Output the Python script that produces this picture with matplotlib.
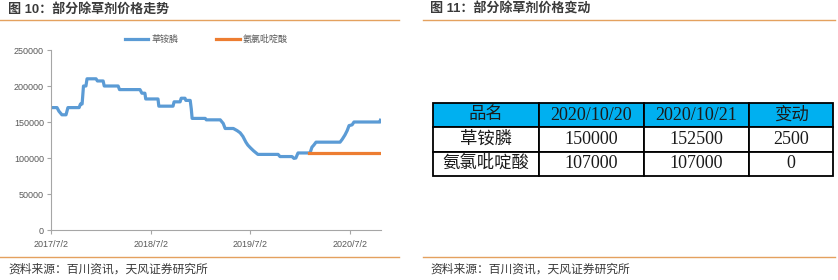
import pandas as pd
import matplotlib
matplotlib.use('Agg')
import matplotlib.pyplot as plt
from matplotlib.lines import Line2D

plt.rcParams['font.family'] = ['Liberation Sans', 'Noto Sans CJK SC', 'DejaVu Sans']

# 草铵膦 price
gl_dates = ['2017-07-02', '2017-07-24', '2017-07-31', '2017-08-11', '2017-08-26', '2017-09-02',
            '2017-10-13', '2017-10-18', '2017-10-24', '2017-10-29', '2017-11-07', '2017-11-11',
            '2017-12-14', '2017-12-19', '2018-01-09', '2018-01-13', '2018-03-05', '2018-03-10',
            '2018-05-24', '2018-05-31', '2018-06-11', '2018-06-14', '2018-07-29', '2018-08-01',
            '2018-09-22', '2018-09-26', '2018-10-18', '2018-10-22', '2018-11-05', '2018-11-08',
            '2018-11-24', '2018-11-28', '2018-12-01', '2019-01-18', '2019-01-22', '2019-03-14',
            '2019-03-25', '2019-04-01', '2019-05-01', '2019-05-15', '2019-05-26', '2019-06-05',
            '2019-06-16', '2019-06-23', '2019-07-03', '2019-07-14', '2019-07-30', '2019-10-12',
            '2019-10-19', '2019-12-02', '2019-12-09', '2019-12-16', '2019-12-24', '2020-02-06',
            '2020-02-13', '2020-02-20', '2020-02-28', '2020-05-26', '2020-06-03', '2020-06-13',
            '2020-06-21', '2020-06-28', '2020-07-09', '2020-07-16', '2020-10-20', '2020-10-21']
gl_price = [170000, 170000, 165000, 160000, 160000, 170000,
            170000, 175000, 175000, 200000, 200000, 210000,
            210000, 207000, 207000, 200000, 200000, 195000,
            195000, 190000, 190000, 182000, 182000, 172000,
            172000, 178000, 178000, 183000, 183000, 180000,
            180000, 168000, 155000, 155000, 153000, 153000,
            148000, 141000, 141000, 138000, 135000, 130000,
            122000, 118000, 114000, 110000, 105000, 105000,
            102000, 102000, 99500, 100000, 107000, 107000,
            115000, 118000, 122000, 122000, 126000, 132000,
            138000, 145000, 146000, 150000, 150000, 152500]

# 氨氯吡啶酸 price
pa_dates = ['2020-02-02', '2020-10-21']
pa_price = [107000, 107000]

x_ticks = ['2017-07-02', '2018-07-02', '2019-07-02', '2020-07-02']
x_labels = ['2017/7/2', '2018/7/2', '2019/7/2', '2020/7/2']
y_ticks = [0, 50000, 100000, 150000, 200000, 250000]

# table on the right
tbl_cols = ['品名', '2020/10/20', '2020/10/21', '变动']
tbl_names = ['草铵膦', '氨氯吡啶酸']
tbl_d1 = [150000, 107000]
tbl_d2 = [152500, 107000]
tbl_chg = [2500, 0]

W, H = 838, 280
fig = plt.figure(figsize=(W / 100, H / 100), dpi=100)

def fx(px):
    return px / W

def fy(py):
    return 1 - py / H

title_c = '#3a3a3a'
sep_c = '#E4A15F'

# headers, separators and source notes
fig.text(fx(8), fy(9), '图 10：部分除草剂价格走势', fontsize=9.4, fontweight='bold',
         color=title_c, va='center', ha='left')
fig.text(fx(430), fy(9), '图 11：部分除草剂价格变动', fontsize=9.4, fontweight='bold',
         color=title_c, va='center', ha='left')
for x0, x1 in [(0, 399), (423, 835)]:
    fig.add_artist(Line2D([fx(x0), fx(x1)], [fy(20), fy(20)], color=sep_c, lw=1.0))
    fig.add_artist(Line2D([fx(x0), fx(x1)], [fy(257), fy(257)], color=sep_c, lw=1.0))
fig.text(fx(8), fy(270), '资料来源：百川资讯，天风证券研究所', fontsize=8.5,
         color=title_c, va='center', ha='left')
fig.text(fx(430), fy(270), '资料来源：百川资讯，天风证券研究所', fontsize=8.5,
         color=title_c, va='center', ha='left')

# line chart
ax = fig.add_axes([fx(51), fy(230), fx(330), 180 / H])
ax.plot(pd.to_datetime(gl_dates), gl_price, color='#5B9BD5', lw=2.3, label='草铵膦')
ax.plot(pd.to_datetime(pa_dates), pa_price, color='#ED7D31', lw=2.3, label='氨氯吡啶酸')
ax.set_xlim(pd.Timestamp('2017-07-02'), pd.Timestamp('2020-10-23'))
ax.set_ylim(0, 250000)
ax.set_yticks(y_ticks)
ax.set_yticklabels([str(v) for v in y_ticks])
ax.set_xticks(pd.to_datetime(x_ticks))
ax.set_xticklabels(x_labels)
for s in ['top', 'right']:
    ax.spines[s].set_visible(False)
for s in ['left', 'bottom']:
    ax.spines[s].set_color('#a6a6a6')
    ax.spines[s].set_linewidth(0.8)
ax.tick_params(axis='both', colors='#a6a6a6', labelcolor='#595959', labelsize=6.5,
               length=3, width=0.8, direction='out')
ax.tick_params(axis='x', pad=4)
ax.tick_params(axis='y', pad=2)
ax.legend(loc='lower center', bbox_to_anchor=(0.47, 0.99), ncol=2, frameon=False,
          fontsize=6.5, handlelength=2.6, handletextpad=0.3, columnspacing=4.2,
          labelcolor='#595959')

# table
ax_t = fig.add_axes([fx(433), fy(176), fx(400), 73 / H])
ax_t.axis('off')
rows = [[n, str(a), str(b), str(c)] for n, a, b, c in zip(tbl_names, tbl_d1, tbl_d2, tbl_chg)]
widths = [106, 105, 105, 84]
tb = ax_t.table(cellText=rows, colLabels=tbl_cols, cellLoc='center',
                colWidths=[w / sum(widths) for w in widths], bbox=[0, 0, 1, 1])
tb.auto_set_font_size(False)
for (r, c), cell in tb.get_celld().items():
    cell.set_edgecolor('black')
    cell.set_linewidth(1.3)
    if r == 0:
        cell.set_facecolor('#00B0F0')
    txt = cell.get_text().get_text()
    cjk = any(ord(ch) > 0x2E80 for ch in txt)
    cell.set_text_props(family=['Liberation Serif', 'Noto Sans CJK SC'],
                        fontsize=12.5 if cjk else 13.0, color='#1a1a1a')

fig.savefig('out.png', dpi=100)
